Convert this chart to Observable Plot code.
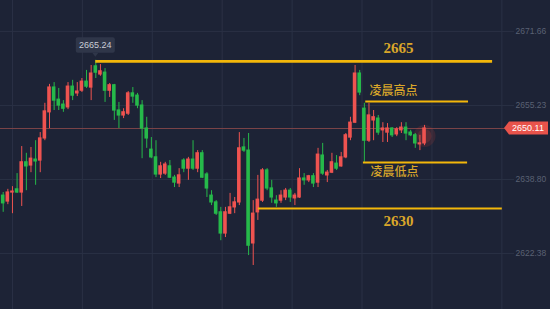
<!DOCTYPE html>
<html><head><meta charset="utf-8">
<script src="https://cdn.jsdelivr.net/npm/d3@7"></script>
<script src="https://cdn.jsdelivr.net/npm/@observablehq/plot@0.6"></script>
<style>html,body{margin:0;padding:0;background:#1d2336;overflow:hidden;}</style>
</head><body><div id="chart"></div>
<script>
// OHLC per candle (prices)
const opens  = [2635.2,2633.9,2635.9,2636.6,2635.9,2642.6,2641.9,2643.2,2643.0,2647.9,
                2653.7,2659.2,2656.5,2655.4,2654.8,2659.4,2657.9,2658.5,2660.5,2659.2,
                2663.9,2662.1,2662.5,2658.5,2659.7,2654.1,2653.0,2653.4,2657.9,2657.4,
                2655.2,2650.1,2645.4,2643.7,2639.9,2640.1,2641.7,2639.2,2637.9,2643.0,
                2641.2,2643.2,2641.2,2644.6,2639.9,2635.2,2633.7,2631.5,2626.8,2631.2,
                2632.6,2633.7,2645.9,2645.2,2624.6,2631.5,2634.1,2640.8,2636.8,2634.1,
                2634.1,2634.8,2636.3,2634.6,2634.8,2639.0,2638.6,2639.5,2638.1,2644.1,
                2639.7,2640.3,2642.3,2641.7,2643.7,2648.1,2651.4,2662.3,2654.5,2647.4,
                2651.9,2652.3,2649.7,2649.2,2650.1,2648.8,2649.7,2650.3,2649.2,2648.6,
                2646.6,2646.8];
const closes = [2633.5,2635.9,2636.1,2635.9,2642.6,2641.7,2643.4,2642.8,2647.9,2653.9,
                2659.2,2656.3,2655.2,2654.5,2659.4,2657.4,2658.3,2660.5,2659.4,2662.3,
                2662.5,2662.8,2658.5,2659.7,2654.1,2653.0,2653.7,2657.9,2657.2,2655.2,
                2650.1,2647.9,2643.7,2639.9,2641.7,2642.1,2639.2,2638.1,2639.7,2641.2,
                2643.2,2641.2,2644.6,2639.2,2636.8,2633.7,2631.2,2626.8,2631.5,2632.6,
                2633.7,2645.7,2645.2,2624.1,2631.2,2634.3,2640.8,2636.8,2634.8,2633.5,
                2635.2,2636.3,2634.8,2635.2,2639.0,2638.6,2639.5,2637.9,2644.3,2640.1,
                2640.3,2642.6,2641.2,2643.7,2648.6,2651.4,2662.3,2658.1,2647.4,2653.0,
                2652.6,2649.2,2650.1,2650.1,2648.6,2649.9,2650.3,2649.0,2648.6,2646.8,
                2646.8,2650.11];
const highs  = [2635.9,2636.6,2637.2,2640.1,2646.1,2644.6,2645.9,2647.4,2649.2,2655.7,
                2659.9,2660.3,2659.0,2656.3,2660.3,2660.8,2660.3,2661.2,2663.0,2664.1,
                2665.24,2664.3,2663.4,2660.1,2659.9,2655.9,2654.5,2658.3,2659.2,2657.9,
                2656.3,2652.6,2648.1,2647.4,2642.6,2642.6,2643.0,2639.7,2641.2,2643.4,
                2643.7,2647.4,2645.2,2645.2,2640.3,2636.3,2634.1,2632.6,2632.6,2635.7,
                2634.8,2649.2,2647.9,2649.0,2634.1,2639.7,2641.2,2641.2,2638.6,2635.2,
                2636.3,2636.8,2636.8,2635.7,2641.2,2640.1,2639.7,2640.1,2645.7,2646.8,
                2640.8,2644.6,2644.1,2644.8,2649.0,2652.6,2664.1,2663.0,2655.7,2655.7,
                2654.1,2653.0,2651.4,2651.2,2650.3,2650.3,2651.4,2651.4,2649.7,2649.0,
                2648.6,2650.8];
const lows   = [2631.5,2633.2,2631.2,2635.7,2632.8,2636.3,2640.3,2637.5,2640.3,2647.4,
                2650.1,2654.1,2654.1,2653.7,2654.3,2656.3,2657.2,2658.1,2659.0,2656.3,
                2661.2,2661.7,2655.9,2657.0,2651.9,2650.1,2652.3,2653.0,2655.7,2654.5,
                2643.4,2645.7,2643.4,2639.2,2639.0,2639.7,2639.0,2637.0,2637.0,2640.3,
                2638.6,2640.8,2640.3,2639.0,2634.8,2633.0,2630.8,2625.2,2625.9,2631.0,
                2631.2,2633.0,2644.8,2621.9,2619.7,2629.7,2633.7,2636.3,2633.5,2632.6,
                2633.5,2634.1,2633.7,2633.0,2634.6,2637.5,2638.1,2637.0,2637.0,2639.7,
                2638.1,2640.1,2640.8,2641.5,2643.4,2647.4,2651.2,2657.4,2642.6,2647.0,
                2647.4,2648.6,2647.0,2647.0,2648.1,2648.3,2649.0,2647.4,2648.3,2645.7,
                2645.2,2646.3];

const priceTicks = [2671.66, 2655.23, 2638.80, 2622.38];
const timeTicks  = [2, 17.1, 32.2, 47.3, 62.4, 77.5, 92.6, 107.7]; // candle index of vertical grid
const lastPrice  = 2650.11;
const peakIndex  = 20;
const peakLabel  = "2665.24";

// support / resistance levels
const levelNames  = ["2665", "凌晨高点", "凌晨低点", "2630"];
const levelPrices = [2665.0, 2656.1, 2642.56, 2632.35];
const levelFrom   = [20, 78.3, 77.8, 55.1];
const levelTo     = [105.7, 100.5, 100.3, 107.8];
const levelLabelAt= [85.4, 84.3, 84.5, 85.4];

const RED = "#ef5350", GREEN = "#26b94a", GOLD = "#f3b70a", LABEL = "#d9a62a";

const candles = opens.map((o, i) => ({
  i, o, c: closes[i], h: highs[i], l: lows[i],
  col: closes[i] >= o ? RED : GREEN
}));
const levels = levelNames.map((name, k) => ({
  name, price: levelPrices[k], from: levelFrom[k], to: levelTo[k], at: levelLabelAt[k],
  serif: /^\d+$/.test(name)
}));

const plot = Plot.plot({
  width: 550, height: 309,
  marginLeft: 0, marginRight: 36, marginTop: 0, marginBottom: 0,
  style: {background: "#1d2336", fontFamily: "'Liberation Sans', Arial, sans-serif", overflow: "visible"},
  x: {domain: [-0.583, 110.43], axis: null},
  y: {domain: [2609.93, 2678.52], axis: null},
  marks: [
    Plot.ruleX(timeTicks, {x: d => d, stroke: "#2a3145", strokeWidth: 1}),
    Plot.ruleY(priceTicks, {y: d => d, stroke: "#2a3145", strokeWidth: 1}),
    Plot.axisY(priceTicks, {anchor: "right", tickSize: 0, tickPadding: 1,
      tickFormat: d => d.toFixed(2), fill: "#5a6173", fontSize: 8.5, label: null}),
    Plot.ruleY([lastPrice], {stroke: "#7c4448", strokeWidth: 1}),
    // glow on last candle
    Plot.dot([candles[candles.length - 1]], {x: "i", y: d => (d.o + d.c) / 2, r: 11, fill: "#ff4a3d", fillOpacity: 0.12}),
    Plot.dot([candles[candles.length - 1]], {x: "i", y: d => (d.o + d.c) / 2, r: 7, fill: "#ff4a3d", fillOpacity: 0.15}),
    // wicks
    Plot.ruleX(candles, {x: "i", y1: "l", y2: "h", stroke: "col", strokeWidth: 1}),
    // bodies
    Plot.rect(candles, {x1: d => d.i - 0.39, x2: d => d.i + 0.39,
      y1: d => Math.min(d.o, d.c), y2: d => Math.max(d.o, d.c),
      fill: "col", insetTop: -0.6, insetBottom: -0.6}),
    // levels
    Plot.ruleY(levels, {y: "price", x1: "from", x2: "to", stroke: GOLD,
      strokeWidth: d => d.name === "2665" ? 2.6 : 2}),
    Plot.text(levels.filter(d => d.serif), {x: "at", y: "price", text: "name",
      fill: LABEL, fontSize: 15, fontWeight: "bold",
      fontFamily: "'Liberation Serif', 'DejaVu Serif', serif"}),
    Plot.text(levels.filter(d => !d.serif), {x: "at", y: "price", text: "name",
      fill: LABEL, fontSize: 12, fontWeight: 500,
      fontFamily: "'Noto Sans CJK SC', sans-serif"})
  ]
});

// offset level labels above / below their lines
d3.select(plot).selectAll("g[aria-label='text']").each(function(_, gi) {
  const sub = levels.filter(d => gi === 0 ? d.serif : !d.serif);
  d3.select(this).selectAll("text").each(function(_, j) {
    const k = levels.indexOf(sub[j]);
    const off = gi === 0 ? 13 : 10;
    const sign = (k === 0 || k === 1) ? -1 : 1;
    const t = d3.select(this);
    t.attr("transform", (t.attr("transform") || "") + ` translate(0,${sign * off})`);
  });
});

const sx = plot.scale("x"), sy = plot.scale("y");
const svg = d3.select(plot);

// peak tooltip
const px = sx.apply(peakIndex), py = sy.apply(highs[peakIndex]);
const tip = svg.append("g");
tip.append("rect").attr("x", px - 19.5).attr("y", py - 22.5).attr("width", 39).attr("height", 15.5)
  .attr("rx", 2).attr("fill", "#2f3649");
tip.append("path").attr("d", `M${px - 3},${py - 7} L${px + 3},${py - 7} L${px},${py - 3} Z`).attr("fill", "#2f3649");
tip.append("text").attr("x", px).attr("y", py - 14.5).attr("text-anchor", "middle")
  .attr("dominant-baseline", "middle").attr("fill", "#c9cdd6").attr("font-size", 9)
  .attr("font-family", "'Liberation Sans', Arial, sans-serif").text(peakLabel);

// last price tag
const ly = sy.apply(lastPrice);
const tag = svg.append("g");
tag.append("path").attr("d", `M504,${ly} L509,${ly - 6.5} L548,${ly - 6.5} L548,${ly + 6.5} L509,${ly + 6.5} Z`)
  .attr("fill", "#e8534b");
tag.append("text").attr("x", 528).attr("y", ly + 0.5).attr("text-anchor", "middle")
  .attr("dominant-baseline", "middle").attr("fill", "#ffffff").attr("font-size", 9)
  .attr("font-family", "'Liberation Sans', Arial, sans-serif").text(lastPrice.toFixed(2));

document.getElementById("chart").appendChild(plot);
</script>
</body></html>
